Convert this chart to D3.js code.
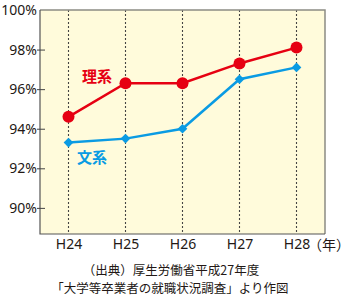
<!DOCTYPE html>
<html>
<head>
<meta charset="utf-8">
<script src="https://cdn.jsdelivr.net/npm/d3@7"></script>
<style>
body { margin: 0; background: #fff; }
text { font-family: "Noto Sans CJK JP", "Noto Sans", sans-serif; }
</style>
</head>
<body>
<script>
var years = ["H24", "H25", "H26", "H27", "H28"];
var rikei = [94.6, 96.3, 96.3, 97.3, 98.1];
var bunkei = [93.3, 93.5, 94.0, 96.5, 97.1];
var yTicks = [90, 92, 94, 96, 98, 100];

var width = 350, height = 299;
var plotL = 40, plotR = 325, plotT = 10, plotB = 234;

var svg = d3.select("body").append("svg")
    .attr("width", width)
    .attr("height", height);

var x = d3.scalePoint().domain(years).range([plotL, plotR]).padding(0.5);
var y = d3.scaleLinear().domain([88.68, 100]).range([plotB, plotT]);

// plot background
svg.append("rect")
    .attr("x", plotL).attr("y", plotT)
    .attr("width", plotR - plotL).attr("height", plotB - plotT)
    .attr("fill", "#fffbdb");

// dotted verticals
svg.selectAll(".grid").data(years).enter().append("line")
    .attr("x1", d => x(d)).attr("x2", d => x(d))
    .attr("y1", plotT).attr("y2", plotB)
    .attr("stroke", "#444")
    .attr("stroke-width", 1.1)
    .attr("stroke-dasharray", "2,2");

// frame
svg.append("path")
    .attr("d", "M" + plotL + "," + plotT + "H" + plotR + "V" + plotB)
    .attr("fill", "none").attr("stroke", "#8c8c84").attr("stroke-width", 1.5);
svg.append("path")
    .attr("d", "M" + plotL + "," + plotT + "V" + plotB + "H" + plotR)
    .attr("fill", "none").attr("stroke", "#555").attr("stroke-width", 1.2);

// y axis
var yAxis = svg.append("g")
    .attr("transform", "translate(" + plotL + ",0)")
    .call(d3.axisLeft(y).tickValues(yTicks).tickSize(3).tickFormat(d => d + "%"));
yAxis.select(".domain").remove();
yAxis.selectAll(".tick line").attr("x2", 5).attr("x1", -3).attr("stroke", "#444")
    .filter(d => d === 100).remove();
yAxis.selectAll(".tick text")
    .attr("x", -3)
    .attr("font-size", 14).attr("fill", "#231815")
    .style("font-family", "'Noto Sans', sans-serif");

// x axis labels
var xAxis = svg.append("g")
    .attr("transform", "translate(0," + plotB + ")")
    .call(d3.axisBottom(x).tickSize(0).tickPadding(5));
xAxis.select(".domain").remove();
xAxis.selectAll(".tick text")
    .attr("font-size", 14).attr("fill", "#231815")
    .style("font-family", "'Noto Sans', sans-serif");

svg.append("text")
    .attr("x", 329).attr("y", 250)
    .attr("text-anchor", "middle")
    .attr("font-size", 14).attr("fill", "#231815")
    .text("（年）");

var line = d3.line().x((d, i) => x(years[i])).y(d => y(d));

svg.append("path").datum(bunkei)
    .attr("d", line).attr("fill", "none")
    .attr("stroke", "#0a9be3").attr("stroke-width", 2.5);
svg.selectAll(".dia").data(bunkei).enter().append("path")
    .attr("d", d3.symbol(d3.symbolDiamond2, 60)())
    .attr("transform", (d, i) => "translate(" + x(years[i]) + "," + y(d) + ")")
    .attr("fill", "#0a9be3");

svg.append("path").datum(rikei)
    .attr("d", line).attr("fill", "none")
    .attr("stroke", "#e60012").attr("stroke-width", 2.5);
svg.selectAll(".dot").data(rikei).enter().append("circle")
    .attr("cx", (d, i) => x(years[i]))
    .attr("cy", d => y(d))
    .attr("r", 6)
    .attr("fill", "#e60012");

svg.append("text")
    .attr("x", 97).attr("y", 82)
    .attr("text-anchor", "middle")
    .attr("font-size", 15).attr("font-weight", "bold")
    .attr("fill", "#e60012")
    .text("理系");
svg.append("text")
    .attr("x", 92).attr("y", 163)
    .attr("text-anchor", "middle")
    .attr("font-size", 15).attr("font-weight", "bold")
    .attr("fill", "#0a9be3")
    .text("文系");

// source
svg.append("text")
    .attr("x", 171).attr("y", 275)
    .attr("text-anchor", "middle")
    .attr("font-size", 12.5).attr("fill", "#231815")
    .text("（出典）厚生労働省平成27年度");
svg.append("text")
    .attr("x", 170).attr("y", 293)
    .attr("text-anchor", "middle")
    .attr("font-size", 12.5).attr("fill", "#231815")
    .text("「大学等卒業者の就職状況調査」より作図");
</script>
</body>
</html>
